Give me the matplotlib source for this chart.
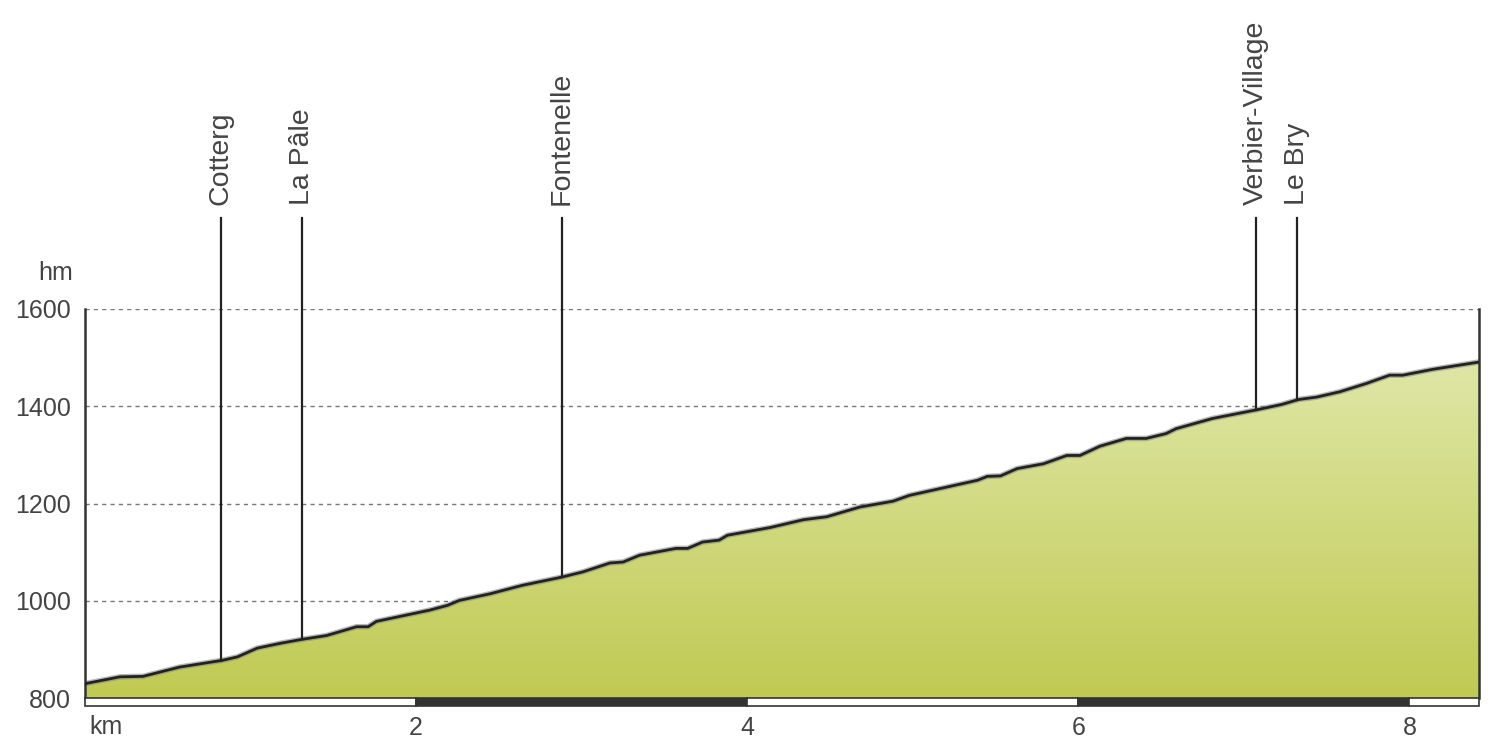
import matplotlib
matplotlib.use("Agg")
import matplotlib.pyplot as plt
import numpy as np
from matplotlib.patches import Rectangle
from matplotlib.colors import LinearSegmentedColormap

plt.rcParams['font.family'] = ['Liberation Sans', 'DejaVu Sans']

# elevation profile (km, m)
dist = [0.0, 0.21, 0.35, 0.57, 0.83, 0.92, 1.04, 1.18, 1.31, 1.46, 1.64, 1.71,
        1.76, 2.08, 2.19, 2.26, 2.45, 2.64, 2.88, 3.01, 3.17, 3.25, 3.35, 3.57,
        3.64, 3.73, 3.83, 3.88, 4.14, 4.34, 4.48, 4.68, 4.88, 4.98, 5.39, 5.45,
        5.53, 5.63, 5.79, 5.93, 6.01, 6.13, 6.29, 6.41, 6.53, 6.59, 6.81, 7.08,
        7.23, 7.33, 7.44, 7.58, 7.74, 7.88, 7.96, 8.14, 8.42]
elev = [830, 844, 845, 864, 878, 885, 903, 913, 921, 929, 947, 947,
        958, 981, 991, 1001, 1015, 1032, 1049, 1060, 1078, 1080, 1094, 1108,
        1108, 1121, 1125, 1135, 1151, 1167, 1173, 1193, 1205, 1217, 1248, 1256,
        1257, 1272, 1282, 1299, 1299, 1318, 1334, 1334, 1344, 1354, 1375, 1393,
        1404, 1414, 1419, 1430, 1447, 1464, 1464, 1476, 1491]

places = ["Cotterg", "La Pâle", "Fontenelle", "Verbier-Village", "Le Bry"]
place_km = [0.82, 1.31, 2.88, 7.07, 7.32]

yticks = [800, 1000, 1200, 1400, 1600]
xticks = [2, 4, 6, 8]
x_max = 8.42

fig = plt.figure(figsize=(15, 7.5), dpi=100)
ax = fig.add_axes([0.0567, 0.069, 0.9293, 0.519])
ax.set_xlim(0, x_max)
ax.set_ylim(800, 1600)

# gradient fill under the profile
cmap = LinearSegmentedColormap.from_list("g", ["#c0ca52", "#e4ebb4"])
grad = np.linspace(0, 1, 256).reshape(-1, 1)
im = ax.imshow(grad, extent=[0, x_max, 800, 1600], origin="lower",
               aspect="auto", cmap=cmap, zorder=1)
poly = ax.fill_between(dist, elev, 800, color="none", zorder=1)
path = poly.get_paths()[0]
im.set_clip_path(path, transform=ax.transData)

ax.plot(dist, elev, color="#8a8a8a", lw=4, alpha=0.6, zorder=2)
ax.plot(dist, elev, color="#222222", lw=2, zorder=3)

for y in yticks[1:]:
    ax.axhline(y, color="#777777", lw=1, ls=(0, (3, 3)), zorder=0)

# place markers
for name, km in zip(places, place_km):
    h = np.interp(km, dist, elev)
    ax.plot([km, km], [h, 1787], color="#222222", lw=1.6, clip_on=False, zorder=3)
    ax.text(km, 1813, name, rotation=90, ha="center", va="bottom",
            fontsize=20.5, color="#444444", clip_on=False)

for s in ["top", "bottom"]:
    ax.spines[s].set_visible(False)
for s in ["left", "right"]:
    ax.spines[s].set_color("#333333")
    ax.spines[s].set_linewidth(1.8)

# km scale bar
bar_h = 16
for i, x0 in enumerate(range(0, 10, 2)):
    w = min(2, x_max - x0)
    fc = "white" if i % 2 == 0 else "#333333"
    ax.add_patch(Rectangle((x0, 800 - bar_h), w, bar_h, facecolor=fc,
                           edgecolor="#333333", lw=1.2, clip_on=False, zorder=4))

ax.set_yticks(yticks)
ax.set_yticklabels([str(v) for v in yticks])
ax.set_xticks(xticks)
ax.set_xticklabels([str(v) for v in xticks])
ax.tick_params(axis="both", length=0, labelsize=18, colors="#444444")
ax.tick_params(axis="x", pad=13)
ax.tick_params(axis="y", pad=10)

fig.text(0.071, 0.031, "km", fontsize=18, color="#444444", ha="center", va="center")
fig.text(0.037, 0.636, "hm", fontsize=18, color="#444444", ha="center", va="center")

fig.savefig("out.png", dpi=100, facecolor="white")
